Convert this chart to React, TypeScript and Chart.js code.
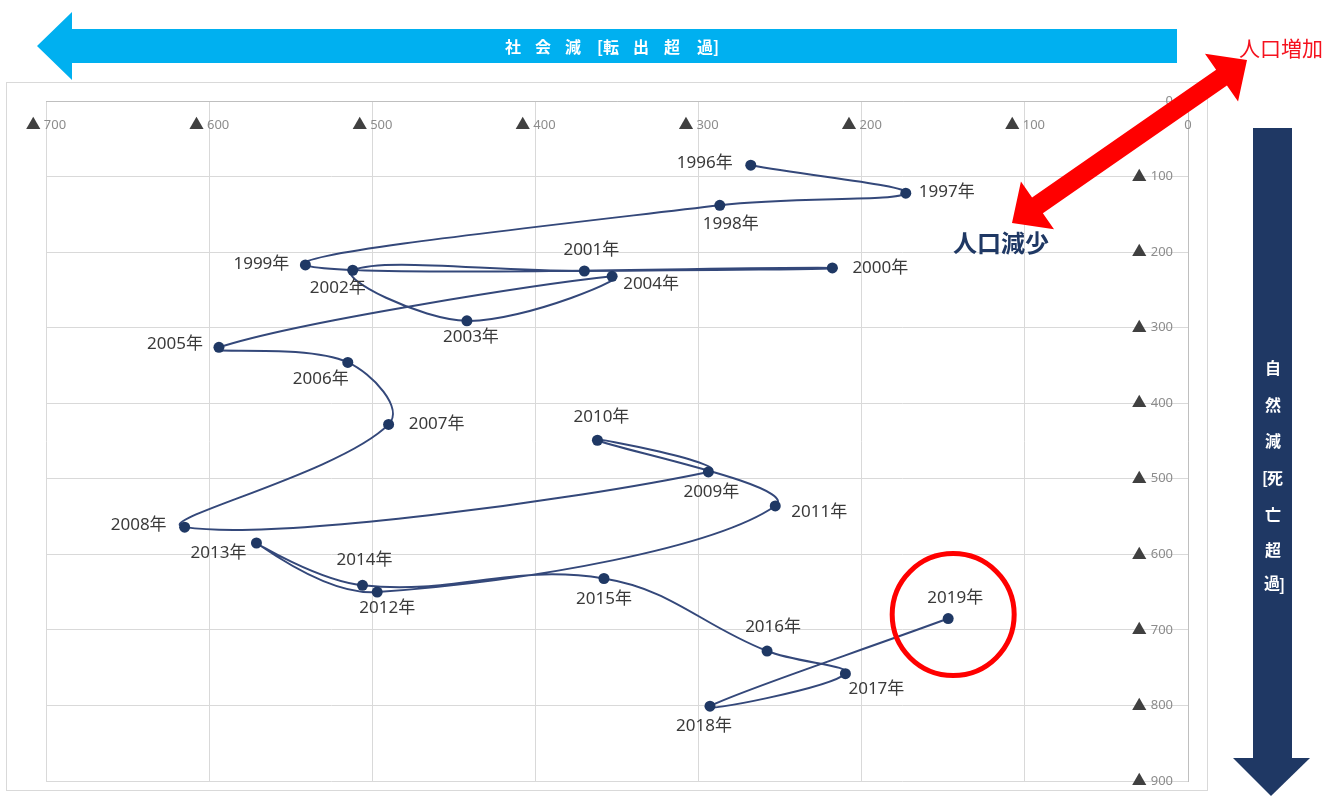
import React, { useEffect, useRef } from "react";
import { Chart, registerables } from "chart.js";

Chart.register(...registerables);

// ---- data ----
const YEARS = [
  "1996年", "1997年", "1998年", "1999年", "2000年", "2001年", "2002年", "2003年",
  "2004年", "2005年", "2006年", "2007年", "2008年", "2009年", "2010年", "2011年",
  "2012年", "2013年", "2014年", "2015年", "2016年", "2017年", "2018年", "2019年",
];
// 社会減（転出超過） – horizontal axis (▲ values)
const SOCIAL_DECREASE = [
  268, 173, 287, 541, 218, 370, 512, 442,
  353, 594, 515, 490, 615, 294, 362, 253,
  497, 571, 506, 358, 258, 210, 293, 147,
];
// 自然減（死亡超過） – vertical axis (▲ values)
const NATURAL_DECREASE = [
  85, 122, 138, 217, 221, 225, 224, 291,
  232, 326, 346, 428, 564, 491, 449, 536,
  650, 585, 641, 632, 728, 758, 801, 685,
];
const X_TICKS = [700, 600, 500, 400, 300, 200, 100, 0];
const Y_TICKS = [0, 100, 200, 300, 400, 500, 600, 700, 800, 900];

// label centre offsets (px) relative to each point
const LABEL_OFFSETS: [number, number][] = [
  [-46, -2], [41, -1], [11, 19], [-44, -1], [48, 0], [7, -21], [-15, 18], [4, 16],
  [39, 8], [-44, -3], [-27, 17], [48, 0], [-46, -2], [3, 20], [4, -23], [44, 6],
  [10, 16], [-38, 10], [2, -25], [0, 21], [6, -24], [31, 15], [-6, 20], [7, -20],
];

const FONT = '"Noto Sans", "Noto Sans CJK JP", sans-serif';
const CJK = '"Noto Sans CJK JP", "Noto Sans", sans-serif';

function drawDoubleArrow(ctx: CanvasRenderingContext2D, x1: number, y1: number, x2: number, y2: number,
  shaftW: number, headW: number, headL: number, color: string) {
  const dx = x2 - x1, dy = y2 - y1;
  const len = Math.hypot(dx, dy);
  const ux = dx / len, uy = dy / len;
  const nx = -uy, ny = ux;
  const p = (bx: number, by: number, a: number, b: number) => [bx + ux * a + nx * b, by + uy * a + ny * b];
  const pts = [
    [x1, y1],
    p(x1, y1, headL, headW / 2),
    p(x1, y1, headL, shaftW / 2),
    p(x2, y2, -headL, shaftW / 2),
    p(x2, y2, -headL, headW / 2),
    [x2, y2],
    p(x2, y2, -headL, -headW / 2),
    p(x2, y2, -headL, -shaftW / 2),
    p(x1, y1, headL, -shaftW / 2),
    p(x1, y1, headL, -headW / 2),
  ];
  ctx.beginPath();
  pts.forEach(([x, y], i) => (i === 0 ? ctx.moveTo(x, y) : ctx.lineTo(x, y)));
  ctx.closePath();
  ctx.fillStyle = color;
  ctx.fill();
}

const decorPlugin = {
  id: "decor",
  beforeDraw(chart: any) {
    const ctx: CanvasRenderingContext2D = chart.ctx;
    ctx.save();
    ctx.fillStyle = "#ffffff";
    ctx.fillRect(0, 0, chart.width, chart.height);
    ctx.strokeStyle = "#D9D9D9";
    ctx.lineWidth = 1;
    ctx.strokeRect(6.5, 82.5, 1201, 708);
    ctx.restore();
  },
  afterDatasetsDraw(chart: any) {
    const ctx: CanvasRenderingContext2D = chart.ctx;
    const meta = chart.getDatasetMeta(0);
    ctx.save();
    ctx.font = `17px ${FONT}`;
    ctx.fillStyle = "#3A3A3A";
    ctx.textAlign = "center";
    ctx.textBaseline = "middle";
    meta.data.forEach((pt: any, i: number) => {
      const [ox, oy] = LABEL_OFFSETS[i];
      ctx.fillText(YEARS[i], pt.x + ox, pt.y + oy);
    });
    ctx.restore();
  },
  afterDraw(chart: any) {
    const ctx: CanvasRenderingContext2D = chart.ctx;
    const xs = chart.scales.x;
    const ys = chart.scales.y;
    const area = chart.chartArea;
    ctx.save();

    const triFont = `15px ${FONT}`;
    const numFont = `13px ${FONT}`;

    // x tick labels (below the top axis line)
    ctx.textBaseline = "middle";
    X_TICKS.forEach((v) => {
      const px = xs.getPixelForValue(v);
      const y = area.top + 24;
      if (v === 0) {
        ctx.font = numFont;
        ctx.fillStyle = "#8C8C8C";
        ctx.textAlign = "center";
        ctx.fillText("0", px, y);
        return;
      }
      ctx.font = triFont;
      const tw = ctx.measureText("▲").width;
      ctx.font = numFont;
      const nw = ctx.measureText(String(v)).width;
      const gap = 3;
      const start = px - (tw + gap + nw) / 2;
      ctx.textAlign = "left";
      ctx.font = triFont;
      ctx.fillStyle = "#404040";
      ctx.fillText("▲", start, y);
      ctx.font = numFont;
      ctx.fillStyle = "#8C8C8C";
      ctx.fillText(String(v), start + tw + gap, y);
    });

    // y tick labels (left of the right axis line)
    Y_TICKS.forEach((v) => {
      const py = ys.getPixelForValue(v);
      const right = area.right - 15;
      ctx.font = numFont;
      ctx.fillStyle = "#8C8C8C";
      ctx.textAlign = "right";
      const txt = v === 0 ? "0" : String(v);
      ctx.fillText(txt, right, py);
      if (v !== 0) {
        const nw = ctx.measureText(txt).width;
        ctx.font = triFont;
        ctx.fillStyle = "#404040";
        ctx.fillText("▲", right - nw - 4, py);
      }
    });

    // blue arrow (social decrease), pointing left
    ctx.beginPath();
    ctx.moveTo(37, 46);
    ctx.lineTo(72, 12);
    ctx.lineTo(72, 29);
    ctx.lineTo(1177, 29);
    ctx.lineTo(1177, 63);
    ctx.lineTo(72, 63);
    ctx.lineTo(72, 80);
    ctx.closePath();
    ctx.fillStyle = "#00B0F0";
    ctx.fill();
    ctx.fillStyle = "#ffffff";
    ctx.font = `bold 16px ${CJK}`;
    ctx.textAlign = "center";
    ctx.textBaseline = "middle";
    const hTokens = ["社", "会", "減", "[転", "出", "超", "過]"];
    const hX = [513, 543, 573, 608, 641, 672, 708];
    hTokens.forEach((t, i) => ctx.fillText(t, hX[i], 47));

    // navy arrow (natural decrease), pointing down
    ctx.fillStyle = "#1F3864";
    ctx.fillRect(1253, 128, 39, 631);
    ctx.beginPath();
    ctx.moveTo(1233, 758);
    ctx.lineTo(1310, 758);
    ctx.lineTo(1271, 796);
    ctx.closePath();
    ctx.fill();
    ctx.fillStyle = "#ffffff";
    ctx.font = `bold 16px ${CJK}`;
    const vChars = ["自", "然", "減", "[死", "亡", "超", "過]"];
    const vY = [368, 405, 441, 478, 515, 550, 583];
    vChars.forEach((c, i) => {
      if (c.startsWith("[")) {
        ctx.textAlign = "center";
        ctx.fillText(c.slice(1), 1275, vY[i]);
        ctx.textAlign = "right";
        ctx.fillText("[", 1268, vY[i]);
      } else if (c.endsWith("]")) {
        ctx.textAlign = "center";
        ctx.fillText(c.slice(0, 1), 1272, vY[i]);
        ctx.textAlign = "left";
        ctx.fillText("]", 1279, vY[i] + 2);
      } else {
        ctx.textAlign = "center";
        ctx.fillText(c, 1273, vY[i]);
      }
    });

    // red double arrow
    drawDoubleArrow(ctx, 1012, 223, 1247, 60, 19, 58, 31, "#FF0000");
    ctx.textAlign = "center";
    ctx.textBaseline = "middle";
    ctx.font = `21px ${CJK}`;
    ctx.fillStyle = "#F5121E";
    ctx.fillText("人口増加", 1281, 48);
    ctx.font = `bold 24px ${CJK}`;
    ctx.fillStyle = "#1F3864";
    ctx.fillText("人口減少", 1001, 243);

    // red circle around the latest point
    const meta = chart.getDatasetMeta(0);
    const last = meta.data[meta.data.length - 1];
    ctx.beginPath();
    ctx.arc(last.x + 5, last.y - 4, 61, 0, Math.PI * 2);
    ctx.strokeStyle = "#FF0000";
    ctx.lineWidth = 5;
    ctx.stroke();

    ctx.restore();
  },
};

export default function App() {
  const ref = useRef<HTMLCanvasElement | null>(null);
  useEffect(() => {
    if (!ref.current) return;
    const chart = new Chart(ref.current, {
      type: "scatter",
      data: {
        datasets: [
          {
            label: "人口動態",
            data: SOCIAL_DECREASE.map((x, i) => ({ x, y: NATURAL_DECREASE[i] })),
            showLine: true,
            tension: 0.4,
            borderColor: "#34487A",
            borderWidth: 2,
            pointRadius: 5.5,
            pointBackgroundColor: "#1F3864",
            pointBorderColor: "#1F3864",
            pointBorderWidth: 0,
          } as any,
        ],
      },
      options: {
        animation: false,
        responsive: false,
        devicePixelRatio: 1,
        layout: { padding: { left: 46, right: 151, top: 101, bottom: 15 } },
        plugins: { legend: { display: false }, tooltip: { enabled: false } },
        scales: {
          x: {
            type: "linear",
            position: "top",
            reverse: true,
            min: 0,
            max: 700,
            ticks: { display: false, stepSize: 100 },
            grid: { color: "#D9D9D9", drawTicks: false, lineWidth: 1 },
            border: { display: true, color: "#BFBFBF" },
          },
          y: {
            type: "linear",
            position: "right",
            reverse: true,
            min: 0,
            max: 900,
            ticks: { display: false, stepSize: 100 },
            grid: { color: "#D9D9D9", drawTicks: false, lineWidth: 1 },
            border: { display: true, color: "#BFBFBF" },
          },
        },
      },
      plugins: [decorPlugin],
    });
    return () => chart.destroy();
  }, []);
  return (
    <div style={{ position: "absolute", left: 0, top: 0, width: 1339, height: 796, background: "#fff" }}>
      <canvas ref={ref} width={1339} height={796} style={{ display: "block" }} />
    </div>
  );
}
